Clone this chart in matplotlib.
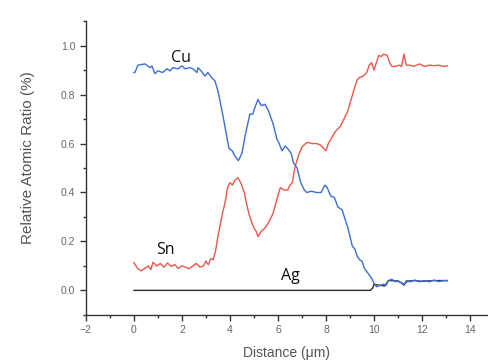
import matplotlib
matplotlib.use("Agg")
import matplotlib.pyplot as plt
from matplotlib.ticker import MultipleLocator

cu_x = [0.0, 0.04, 0.17, 0.46, 0.67, 0.75, 0.875, 1.0, 1.2, 1.375, 1.5, 1.625, 1.83, 2.0, 2.125,
        2.33, 2.46, 2.625, 2.67, 2.83, 2.96, 3.08, 3.25, 3.375, 3.5, 3.67, 3.8, 3.875, 3.96, 4.1,
        4.2, 4.35, 4.5, 4.65, 4.83, 4.95, 5.05, 5.17, 5.3, 5.46, 5.6, 5.8, 5.95, 6.05, 6.17, 6.3,
        6.4, 6.55, 6.65, 6.8, 6.95, 7.1, 7.2, 7.4, 7.6, 7.8, 7.95, 8.05, 8.2, 8.35, 8.5, 8.67,
        8.8, 8.9, 9.0, 9.1, 9.2, 9.3, 9.4, 9.5, 9.6, 9.75, 9.9, 10.0, 10.1, 10.25, 10.4, 10.5,
        10.6, 10.75, 10.9, 11.0, 11.15, 11.25, 11.35, 11.5, 11.7, 11.9, 12.1, 12.3, 12.5, 12.7,
        12.9, 13.05]
cu_y = [0.89, 0.89, 0.92, 0.925, 0.91, 0.917, 0.885, 0.897, 0.89, 0.905, 0.897, 0.91, 0.905, 0.917, 0.905,
        0.91, 0.905, 0.89, 0.91, 0.893, 0.876, 0.89, 0.868, 0.856, 0.815, 0.734, 0.665, 0.625, 0.58, 0.57,
        0.55, 0.53, 0.56, 0.64, 0.72, 0.72, 0.75, 0.78, 0.755, 0.76, 0.735, 0.68, 0.62, 0.60, 0.57, 0.59,
        0.58, 0.56, 0.52, 0.50, 0.44, 0.41, 0.40, 0.405, 0.40, 0.40, 0.43, 0.42, 0.385, 0.38, 0.34, 0.33,
        0.29, 0.26, 0.22, 0.18, 0.17, 0.14, 0.125, 0.12, 0.09, 0.07, 0.05, 0.03, 0.015, 0.02, 0.025, 0.02,
        0.04, 0.045, 0.035, 0.04, 0.03, 0.02, 0.04, 0.035, 0.042, 0.035, 0.04, 0.035, 0.042, 0.036,
        0.04, 0.04]

sn_x = [0.0, 0.15, 0.3, 0.45, 0.6, 0.7, 0.8, 0.95, 1.1, 1.25, 1.4, 1.55, 1.7, 1.85, 2.0, 2.15,
        2.3, 2.45, 2.6, 2.75, 2.9, 3.0, 3.1, 3.2, 3.3, 3.4, 3.5, 3.6, 3.7, 3.8, 3.9, 4.0, 4.1,
        4.2, 4.33, 4.45, 4.6, 4.7, 4.8, 4.9, 5.0, 5.1, 5.17, 5.3, 5.46, 5.6, 5.8, 5.95, 6.1,
        6.25, 6.4, 6.5, 6.6, 6.7, 6.85, 7.0, 7.15, 7.25, 7.4, 7.6, 7.75, 7.9, 8.0, 8.1, 8.25,
        8.4, 8.6, 8.75, 8.9, 9.05, 9.2, 9.3, 9.4, 9.55, 9.7, 9.8, 9.9, 10.0, 10.1, 10.2, 10.3,
        10.4, 10.55, 10.65, 10.75, 10.9, 11.05, 11.15, 11.25, 11.35, 11.5, 11.65, 11.9, 12.1,
        12.3, 12.5, 12.7, 12.9, 13.05]
sn_y = [0.113, 0.09, 0.08, 0.09, 0.10, 0.085, 0.115, 0.10, 0.11, 0.095, 0.112, 0.098, 0.105, 0.09, 0.10, 0.095,
        0.088, 0.10, 0.11, 0.095, 0.10, 0.12, 0.105, 0.13, 0.125, 0.16, 0.22, 0.27, 0.32, 0.36, 0.42, 0.44, 0.43,
        0.45, 0.46, 0.44, 0.40, 0.35, 0.31, 0.28, 0.255, 0.24, 0.22, 0.24, 0.255, 0.275, 0.315, 0.37, 0.42,
        0.41, 0.41, 0.43, 0.44, 0.50, 0.55, 0.585, 0.60, 0.605, 0.60, 0.60, 0.595, 0.58, 0.57, 0.60, 0.625,
        0.65, 0.67, 0.70, 0.73, 0.78, 0.83, 0.86, 0.87, 0.875, 0.89, 0.92, 0.93, 0.90, 0.93, 0.96, 0.955,
        0.965, 0.96, 0.93, 0.915, 0.915, 0.92, 0.915, 0.965, 0.92, 0.92, 0.915, 0.925, 0.915,
        0.92, 0.918, 0.92, 0.915, 0.917]

ag_x = [0.0, 9.85, 9.95, 10.0, 10.15, 10.3, 10.45, 10.6, 10.75, 11.0, 11.25, 11.4, 11.7, 12.0, 12.5, 13.05]
ag_y = [0.0, 0.0, 0.01, 0.025, 0.022, 0.02, 0.018, 0.04, 0.04, 0.038, 0.025, 0.038, 0.04, 0.037, 0.04, 0.04]

labels = ["Cu", "Sn", "Ag"]
label_pos = [(1.96, 0.95), (1.33, 0.166), (6.5, 0.057)]

fig = plt.figure(figsize=(4.88, 3.64), dpi=100)
ax = fig.add_axes([0.176, 0.135, 0.824, 0.807])

ax.plot(ag_x, ag_y, color="#2a2a2a", lw=1.0)
ax.plot(sn_x, sn_y, color="#e8574a", lw=1.0)
ax.plot(cu_x, cu_y, color="#3b6fd2", lw=1.0)

for lab, (lx, ly) in zip(labels, label_pos):
    ax.text(lx, ly, lab, fontsize=11.5, ha="center", va="center", color="#111111",
            family=["Open Sans", "DejaVu Sans"])

ax.set_xlim(-2, 14.75)
ax.set_ylim(-0.1, 1.1)
ax.xaxis.set_major_locator(MultipleLocator(2))
ax.xaxis.set_minor_locator(MultipleLocator(1))
ax.yaxis.set_major_locator(MultipleLocator(0.2))
ax.yaxis.set_minor_locator(MultipleLocator(0.1))
ax.set_yticks([0.0, 0.2, 0.4, 0.6, 0.8, 1.0])
ax.set_yticklabels(["0.0", "0.2", "0.4", "0.6", "0.8", "1.0"])

for s in ["top", "right"]:
    ax.spines[s].set_visible(False)
for s in ["left", "bottom"]:
    ax.spines[s].set_color("#333333")
    ax.spines[s].set_linewidth(1.0)

ax.tick_params(which="major", direction="out", length=4, width=1, color="#333333",
               labelsize=7.5, labelcolor="#666666")
ax.tick_params(which="minor", direction="out", length=2.5, width=1, color="#333333")
for t in ax.get_xticklabels() + ax.get_yticklabels():
    t.set_family(["Liberation Sans", "DejaVu Sans"])

ax.set_xlabel("Distance (μm)", fontsize=10, color="#555555",
              family=["Liberation Sans", "DejaVu Sans"])
ax.set_ylabel("Relative Atomic Ratio (%)", fontsize=11, color="#555555",
              family=["Liberation Sans", "DejaVu Sans"])
ax.xaxis.set_label_coords(0.50, -0.105)
ax.yaxis.set_label_coords(-0.127, 0.535)

fig.savefig("out.png", dpi=100)
